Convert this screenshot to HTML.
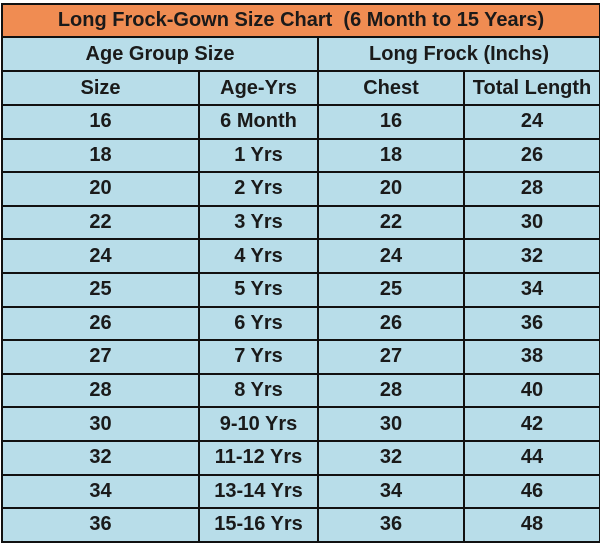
<!DOCTYPE html>
<html><head><style>
body{margin:0;width:600px;height:546px;background:#fff;overflow:hidden;font-family:"Liberation Sans",sans-serif;}
table{position:absolute;left:1px;top:3px;border-collapse:collapse;table-layout:fixed;width:598px;}
td{border:2px solid #111;background:#b8dde9;text-align:center;font-weight:bold;font-size:20px;color:#1a1a1a;padding:0;height:31.6px;line-height:31px;}
tr.t td{background:#f08c52;height:31px;font-size:20px;}
tr.h td{height:32px;}
</style></head><body>
<table>
<colgroup><col style="width:197px"><col style="width:119px"><col style="width:146px"><col style="width:136px"></colgroup>
<tr class="t"><td colspan="4">Long Frock-Gown Size Chart&nbsp; (6 Month to 15 Years)</td></tr>
<tr class="h"><td colspan="2">Age Group Size</td><td colspan="2">Long Frock (Inchs)</td></tr>
<tr class="h"><td>Size</td><td>Age-Yrs</td><td>Chest</td><td>Total Length</td></tr>
<tr><td>16</td><td>6 Month</td><td>16</td><td>24</td></tr>
<tr><td>18</td><td>1 Yrs</td><td>18</td><td>26</td></tr>
<tr><td>20</td><td>2 Yrs</td><td>20</td><td>28</td></tr>
<tr><td>22</td><td>3 Yrs</td><td>22</td><td>30</td></tr>
<tr><td>24</td><td>4 Yrs</td><td>24</td><td>32</td></tr>
<tr><td>25</td><td>5 Yrs</td><td>25</td><td>34</td></tr>
<tr><td>26</td><td>6 Yrs</td><td>26</td><td>36</td></tr>
<tr><td>27</td><td>7 Yrs</td><td>27</td><td>38</td></tr>
<tr><td>28</td><td>8 Yrs</td><td>28</td><td>40</td></tr>
<tr><td>30</td><td>9-10 Yrs</td><td>30</td><td>42</td></tr>
<tr><td>32</td><td>11-12 Yrs</td><td>32</td><td>44</td></tr>
<tr><td>34</td><td>13-14 Yrs</td><td>34</td><td>46</td></tr>
<tr><td>36</td><td>15-16 Yrs</td><td>36</td><td>48</td></tr>
</table>
</body></html>
